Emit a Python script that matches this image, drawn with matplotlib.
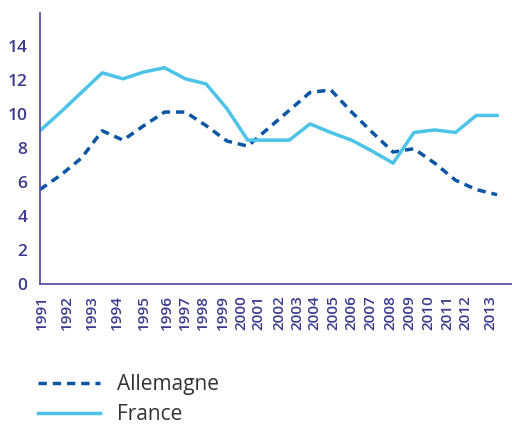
import matplotlib.pyplot as plt

years = list(range(1991, 2014))
allemagne = [5.55, 6.4, 7.4, 9.0, 8.45, 9.3, 10.1, 10.1, 9.3, 8.4, 8.1, 9.15,
             10.2, 11.25, 11.4, 10.1, 8.9, 7.75, 7.95, 7.1, 6.1, 5.55, 5.25]
france = [9.0, 10.1, 11.25, 12.4, 12.05, 12.45, 12.7, 12.05, 11.75, 10.3, 8.45, 8.45,
          8.45, 9.4, 8.9, 8.45, 7.8, 7.1, 8.9, 9.05, 8.9, 9.9, 9.9]
year_labels = [str(y) for y in years]
y_ticks = [0, 2, 4, 6, 8, 10, 12, 14]

# label positions in the original are not evenly spread
tick_pos = [1991.1, 1992.3, 1993.5, 1994.7, 1996.0, 1997.1, 1998.0, 1998.85,
            1999.8, 2000.7, 2001.5, 2002.5, 2003.4, 2004.2, 2005.1, 2006.0,
            2006.9, 2007.85, 2008.8, 2009.7, 2010.6, 2011.5, 2012.7]

AXIS = "#5a50a5"
TICK = "#3d3a8f"
DARK = "#0b56a4"
LIGHT = "#4dc3e8"

plt.rcParams["font.family"] = ["Open Sans", "DejaVu Sans"]

fig = plt.figure(figsize=(5.12, 4.26), dpi=100)
ax = fig.add_axes([0.078, 0.333, 0.922, 0.636])

ax.plot(years, allemagne, color=DARK, lw=2.5, dashes=(2.4, 1.7), label="Allemagne")
ax.plot(years, france, color=LIGHT, lw=2.5, label="France")

ax.set_xlim(1991, 2013.72)
ax.set_ylim(0, 15.9)
ax.set_yticks(y_ticks)
ax.set_xticks(tick_pos)
ax.set_xticklabels(year_labels, rotation=90)

for s in ["top", "right"]:
    ax.spines[s].set_visible(False)
for s in ["left", "bottom"]:
    ax.spines[s].set_color(AXIS)
    ax.spines[s].set_linewidth(1.3)

ax.tick_params(axis="both", length=0, colors=TICK)
ax.tick_params(axis="y", pad=9, labelsize=12.5)
ax.tick_params(axis="x", pad=8, labelsize=11)
for lab in ax.get_xticklabels() + ax.get_yticklabels():
    lab.set_fontweight("semibold")

leg = ax.legend(loc="upper left", bbox_to_anchor=(0.074, 0.121),
                bbox_transform=fig.transFigure, frameon=False, fontsize=15,
                handlelength=3.0, handletextpad=0.8, labelspacing=0.42,
                borderpad=0, borderaxespad=0)
for t in leg.get_texts():
    t.set_color("#333333")

fig.savefig("out.png", dpi=100)
